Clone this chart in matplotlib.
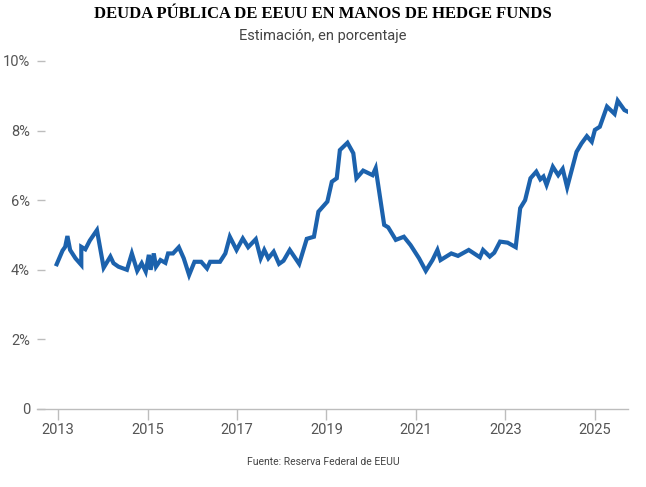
# Deuda publica de EEUU en manos de hedge funds (estimacion, %)
import numpy as np
import matplotlib
matplotlib.use("Agg")
from matplotlib import pyplot as plt

# fecha en años decimales y porcentaje estimado
fechas = [2012.97, 2013.1, 2013.16, 2013.21, 2013.27, 2013.39, 2013.52, 2013.52,
          2013.61, 2013.71, 2013.87, 2014.02, 2014.17, 2014.24, 2014.35, 2014.54,
          2014.65, 2014.77, 2014.87, 2014.96, 2015.03, 2015.07, 2015.14, 2015.19,
          2015.29, 2015.4, 2015.46, 2015.57, 2015.7, 2015.81, 2015.93, 2016.05,
          2016.2, 2016.33, 2016.4, 2016.62, 2016.74, 2016.84, 2016.99, 2017.13,
          2017.25, 2017.42, 2017.53, 2017.61, 2017.7, 2017.82, 2017.94, 2018.04,
          2018.18, 2018.39, 2018.56, 2018.72, 2018.82, 2019.02, 2019.12, 2019.23,
          2019.3, 2019.47, 2019.6, 2019.67, 2019.82, 2020.03, 2020.1, 2020.29,
          2020.38, 2020.55, 2020.73, 2020.88, 2021.07, 2021.22, 2021.37, 2021.48,
          2021.55, 2021.79, 2021.94, 2022.18, 2022.43, 2022.5, 2022.65, 2022.75,
          2022.88, 2023.05, 2023.23, 2023.33, 2023.44, 2023.56, 2023.69, 2023.78,
          2023.85, 2023.92, 2024.06, 2024.18, 2024.28, 2024.38, 2024.59, 2024.7,
          2024.82, 2024.93, 2025.0, 2025.11, 2025.27, 2025.44, 2025.51, 2025.66,
          2025.74]
porcentaje = [4.16, 4.55, 4.66, 4.97, 4.57, 4.33, 4.14, 4.66, 4.59, 4.84,
              5.14, 4.06, 4.38, 4.19, 4.09, 4.0, 4.47, 3.97, 4.19, 3.95,
              4.43, 4.0, 4.47, 4.09, 4.28, 4.2, 4.47, 4.47, 4.65, 4.33,
              3.85, 4.23, 4.23, 4.04, 4.23, 4.23, 4.47, 4.95, 4.57, 4.9,
              4.65, 4.88, 4.33, 4.57, 4.33, 4.52, 4.17, 4.26, 4.57, 4.17,
              4.89, 4.95, 5.67, 5.96, 6.53, 6.63, 7.44, 7.65, 7.35, 6.63,
              6.85, 6.72, 6.92, 5.29, 5.22, 4.86, 4.95, 4.71, 4.33, 3.97,
              4.28, 4.57, 4.28, 4.47, 4.4, 4.57, 4.36, 4.57, 4.38, 4.49,
              4.81, 4.78, 4.65, 5.77, 6.0, 6.63, 6.82, 6.6, 6.68, 6.44,
              6.96, 6.72, 6.9, 6.37, 7.39, 7.63, 7.84, 7.68, 8.02, 8.11,
              8.69, 8.48, 8.86, 8.59, 8.54]
años = [2013, 2015, 2017, 2019, 2021, 2023, 2025]
yticks = [0, 2, 4, 6, 8, 10]
ylabels = ["0", "2%", "4%", "6%", "8%", "10%"]

plt.rcParams['font.family'] = ['Roboto', 'DejaVu Sans']

fig = plt.figure(figsize=(6.46, 4.87), dpi=100)
ax = fig.add_axes([37/646, 78/487, 591/646, 348/487])

ax.plot(fechas, porcentaje, color="#1c62ad", lw=3, solid_joinstyle="miter")

ax.set_xlim(2012.53, 2025.74)
ax.set_ylim(0, 10)
ax.set_xticks(años)
ax.set_xticklabels([str(a) for a in años])
ax.set_yticks(yticks)
ax.set_yticklabels(ylabels)

for s in ["top", "right", "left"]:
    ax.spines[s].set_visible(False)
ax.spines["bottom"].set_color("#bdbdbd")
ax.spines["bottom"].set_linewidth(1)

ax.tick_params(axis="x", length=8, width=1, color="#bdbdbd", pad=2,
               labelsize=10.5, labelcolor="#555555")
ax.tick_params(axis="y", direction="in", length=6, width=1, color="#bdbdbd",
               pad=5, labelsize=10.5, labelcolor="#555555")

fig.text(0.5, 0.971, "DEUDA PÚBLICA DE EEUU EN MANOS DE HEDGE FUNDS",
         ha="center", va="center", family="Liberation Serif",
         fontweight="bold", fontsize=12)
fig.text(0.5, 0.927, "Estimación, en porcentaje", ha="center", va="center",
         fontsize=10.5, color="#444444")
fig.text(0.5, 0.051, "Fuente: Reserva Federal de EEUU", ha="center",
         va="center", fontsize=7.5, color="#444444")

fig.savefig("out.png", dpi=100)
